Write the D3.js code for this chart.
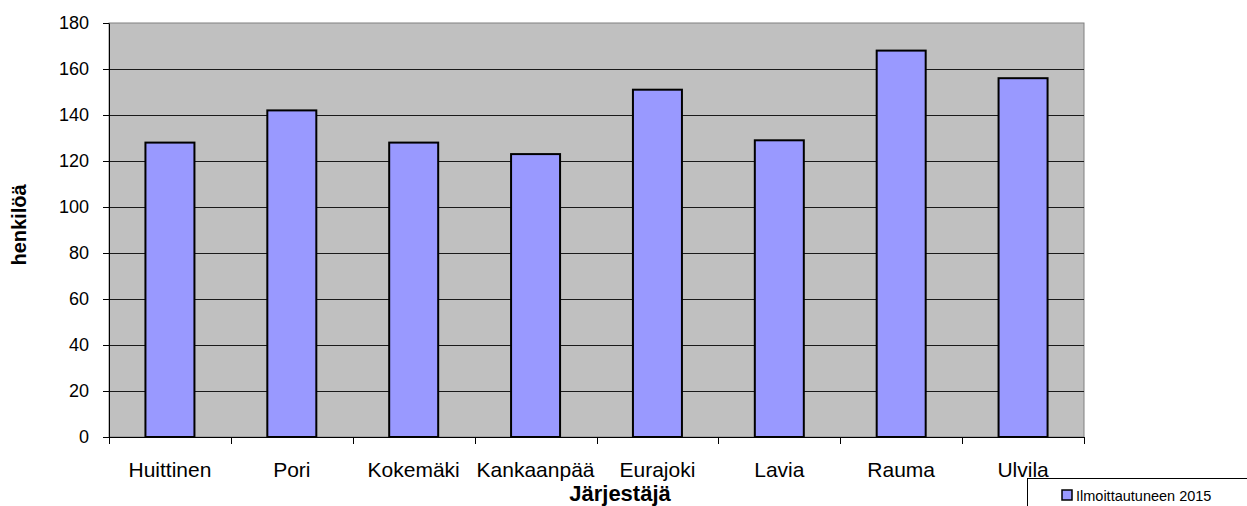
<!DOCTYPE html>
<html>
<head>
<meta charset="utf-8">
<script src="https://cdn.jsdelivr.net/npm/d3@7"></script>
<style>
  body { margin: 0; background: #fff; }
  svg { display: block; font-family: "Liberation Sans", Arial, sans-serif; }
</style>
</head>
<body>
<svg id="chart" width="1247" height="506"></svg>
<script>
var categories = ["Huittinen", "Pori", "Kokemäki", "Kankaanpää", "Eurajoki", "Lavia", "Rauma", "Ulvila"];
var values2015 = [128, 142, 128, 123, 151, 129, 168, 156];
var yTicks = [0, 20, 40, 60, 80, 100, 120, 140, 160, 180];
var seriesName = "Ilmoittautuneen 2015";

var svg = d3.select("#chart"),
    margin = {top: 23, right: 163, bottom: 69, left: 109},
    width = +svg.attr("width") - margin.left - margin.right,
    height = +svg.attr("height") - margin.top - margin.bottom;

var x = d3.scaleBand().domain(categories).range([0, width]);
var y = d3.scaleLinear().domain([0, 180]).range([height, 0]);

var g = svg.append("g")
    .attr("transform", "translate(" + margin.left + "," + margin.top + ")");

// plot background
g.append("rect")
    .attr("width", width).attr("height", height)
    .attr("fill", "#c0c0c0")
    .attr("stroke", "#808080").attr("stroke-width", 1);

// gridlines
g.selectAll(".grid")
    .data(yTicks.filter(function(d) { return d > 0 && d < 180; }))
  .enter().append("line")
    .attr("x1", 0).attr("x2", width)
    .attr("y1", function(d) { return Math.round(y(d)) + 0.5; })
    .attr("y2", function(d) { return Math.round(y(d)) + 0.5; })
    .attr("stroke", "#1a1a1a").attr("stroke-width", 1);

// bars
var bw = 49;
g.selectAll(".bar")
    .data(values2015)
  .enter().append("rect")
    .attr("class", "bar")
    .attr("x", function(d, i) { return x(categories[i]) + x.bandwidth() / 2 - bw / 2; })
    .attr("y", function(d) { return y(d); })
    .attr("width", bw)
    .attr("height", function(d) { return height - y(d); })
    .attr("fill", "#9999ff")
    .attr("stroke", "#000").attr("stroke-width", 2);

// y axis
var yAxis = g.append("g")
    .call(d3.axisLeft(y).tickValues(yTicks).tickSizeInner(6).tickSizeOuter(0).tickPadding(14));
yAxis.select(".domain").attr("stroke", "#000");
yAxis.selectAll("text")
    .attr("font-size", "18px").attr("fill", "#000")
    .attr("font-family", "Liberation Sans, Arial, sans-serif");

// x axis
var xAxis = g.append("g")
    .attr("transform", "translate(0," + height + ")");
xAxis.append("line")
    .attr("x1", 0).attr("x2", width).attr("y1", 0.5).attr("y2", 0.5)
    .attr("stroke", "#000");
xAxis.selectAll(".xtick")
    .data(categories.concat([null]))
  .enter().append("line")
    .attr("x1", function(d, i) { return Math.round(i * x.step()) + 0.5; })
    .attr("x2", function(d, i) { return Math.round(i * x.step()) + 0.5; })
    .attr("y1", 0).attr("y2", 7)
    .attr("stroke", "#000");
xAxis.selectAll(".xlabel")
    .data(categories)
  .enter().append("text")
    .attr("x", function(d) { return x(d) + x.bandwidth() / 2; })
    .attr("y", 40)
    .attr("text-anchor", "middle")
    .attr("font-size", "21px")
    .text(function(d) { return d; });

// axis titles
svg.append("text")
    .attr("x", 620).attr("y", 501)
    .attr("text-anchor", "middle")
    .attr("font-size", "22px").attr("font-weight", "bold")
    .text("Järjestäjä");
svg.append("text")
    .attr("transform", "translate(26,225) rotate(-90)")
    .attr("text-anchor", "middle")
    .attr("font-size", "20px").attr("font-weight", "bold")
    .text("henkilöä");

// legend
var lg = svg.append("g").attr("transform", "translate(1027,478)");
lg.append("rect")
    .attr("x", 0.5).attr("y", 0.5).attr("width", 240).attr("height", 40)
    .attr("fill", "#fff").attr("stroke", "#000");
lg.append("rect")
    .attr("x", 35).attr("y", 12).attr("width", 10).attr("height", 10)
    .attr("fill", "#9999ff").attr("stroke", "#000").attr("stroke-width", 1.5);
lg.append("text")
    .attr("x", 49).attr("y", 23)
    .attr("font-size", "14.5px")
    .text(seriesName);
</script>
</body>
</html>
